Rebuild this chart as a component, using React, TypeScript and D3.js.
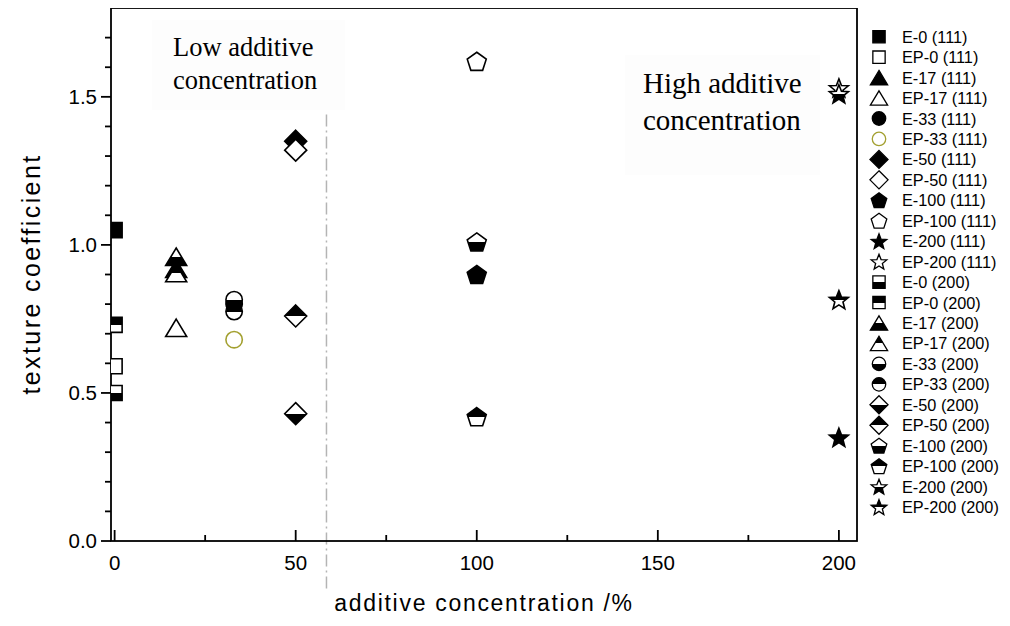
import React, { useRef, useEffect } from "react";
import * as d3 from "d3";

// additive concentration (%) of each sample and the marker shape it uses
const concentrations = [0, 17, 33, 50, 100, 200];
const shapes = ["square", "triangle", "circle", "diamond", "pentagon", "star"];

// texture coefficients
const e111 = [1.05, 0.92, 0.8, 1.35, 0.9, 0.35];
const ep111 = [0.59, 0.72, 0.68, 1.32, 1.62, 1.53];
const e200 = [0.5, 0.96, 0.815, 0.43, 1.01, 1.51];
const ep200 = [0.73, 0.905, 0.775, 0.76, 0.42, 0.815];

const yMajorTicks = [0, 0.5, 1.0, 1.5];
const yMinorTicks = d3.range(0.1, 1.8, 0.1).filter((v) => Math.abs(v * 2 - Math.round(v * 2)) > 0.01);
const xMajorTicks = [0, 50, 100, 150, 200];
const xMinorTicks = [25, 75, 125, 175];
const dividerAt = 58.5;

type Style = "filled" | "open" | "bottomBlack" | "topBlack";

// one entry per legend row
const series: { label: string; x: number; y: number; shape: string; style: Style; stroke: string }[] = [];
concentrations.forEach((c, i) => {
  series.push({ label: `E-${c} (111)`, x: c, y: e111[i], shape: shapes[i], style: "filled", stroke: "#000" });
  series.push({ label: `EP-${c} (111)`, x: c, y: ep111[i], shape: shapes[i], style: "open", stroke: c === 33 ? "#a3a030" : "#000" });
});
concentrations.forEach((c, i) => {
  series.push({ label: `E-${c} (200)`, x: c, y: e200[i], shape: shapes[i], style: "bottomBlack", stroke: "#000" });
  series.push({ label: `EP-${c} (200)`, x: c, y: ep200[i], shape: shapes[i], style: "topBlack", stroke: "#000" });
});

const polygon = (pts: number[][]) => "M" + pts.map((p) => p.map((v) => v.toFixed(2)).join(",")).join("L") + "Z";

// marker outline centred on 0,0
const shapePath = (shape: string, k: number) => {
  if (shape === "square") {
    const s = 7.5 * k;
    return polygon([[-s, -s], [s, -s], [s, s], [-s, s]]);
  }
  if (shape === "circle") {
    const r = 8.2 * k;
    return `M${r},0A${r},${r} 0 1 1 ${-r},0A${r},${r} 0 1 1 ${r},0Z`;
  }
  if (shape === "triangle") {
    const w = 10.5 * k, h = 17.5 * k;
    return polygon([[0, -h / 2], [w, h / 2], [-w, h / 2]]);
  }
  if (shape === "diamond") {
    const a = 11 * k;
    return polygon([[0, -a], [a, 0], [0, a], [-a, 0]]);
  }
  if (shape === "pentagon") {
    const R = 10 * k;
    const dy = (R - R * Math.cos(Math.PI / 5)) / 2;
    return polygon(d3.range(5).map((i) => {
      const a = -Math.PI / 2 + (i * 2 * Math.PI) / 5;
      return [R * Math.cos(a), R * Math.sin(a) + dy];
    }));
  }
  // star
  const R = 10 * k, r = 4.3 * k;
  const dy = (R - R * Math.cos(Math.PI / 5)) / 2;
  return polygon(d3.range(10).map((i) => {
    const a = -Math.PI / 2 + (i * Math.PI) / 5;
    const rad = i % 2 === 0 ? R : r;
    return [rad * Math.cos(a), rad * Math.sin(a) + dy];
  }));
};

const fillFor = (style: Style) =>
  style === "filled" ? "#000" : style === "open" ? "#fff" : style === "bottomBlack" ? "url(#bottomBlack)" : "url(#topBlack)";

const TextureChart = () => {
  const svgRef = useRef<SVGSVGElement>(null);

  useEffect(() => {
    const svg = d3.select(svgRef.current);
    svg.selectAll("*").remove();

    const left = 111, right = 857, top = 8, bottom = 541;
    const x = d3.scaleLinear().domain([-1, 205]).range([left, right]);
    const y = d3.scaleLinear().domain([0, 1.8]).range([bottom, top]);

    const defs = svg.append("defs");
    const grad = (id: string, topColor: string, botColor: string) => {
      const g = defs.append("linearGradient").attr("id", id).attr("x1", 0).attr("y1", 0).attr("x2", 0).attr("y2", 1);
      g.append("stop").attr("offset", "0").attr("stop-color", topColor);
      g.append("stop").attr("offset", "0.5").attr("stop-color", topColor);
      g.append("stop").attr("offset", "0.5").attr("stop-color", botColor);
      g.append("stop").attr("offset", "1").attr("stop-color", botColor);
    };
    grad("bottomBlack", "#fff", "#000");
    grad("topBlack", "#000", "#fff");
    defs.append("clipPath").attr("id", "plotClip")
      .append("rect").attr("x", left).attr("y", top).attr("width", right - left).attr("height", bottom - top);

    // faint boxes behind the annotations
    svg.append("rect").attr("x", 152).attr("y", 20).attr("width", 193).attr("height", 90).attr("fill", "#fdfdfd");
    svg.append("rect").attr("x", 625).attr("y", 55).attr("width", 195).attr("height", 120).attr("fill", "#fdfdfd");

    // divider between low and high concentration
    svg.append("line")
      .attr("x1", x(dividerAt)).attr("x2", x(dividerAt))
      .attr("y1", y(1.44)).attr("y2", y(-0.16))
      .attr("stroke", "#b4b4b4").attr("stroke-width", 1.5).attr("stroke-dasharray", "12,4,2,4");

    const annot = (lines: string[], tx: number, ty: number, size: number, lh: number) => {
      const t = svg.append("text").attr("font-family", "'Liberation Serif', 'Times New Roman', serif")
        .attr("font-size", size).attr("fill", "#000");
      lines.forEach((l, i) => t.append("tspan").attr("x", tx).attr("y", ty + i * lh).text(l));
    };
    annot(["Low additive", "concentration"], 173, 56, 26.5, 33);
    annot(["High additive", "concentration"], 643, 93, 29, 37);

    // frame
    svg.append("rect").attr("x", left).attr("y", top).attr("width", right - left).attr("height", bottom - top)
      .attr("fill", "none").attr("stroke", "#000").attr("stroke-width", 1.8);

    // y axis: ticks outward
    const yAxis = svg.append("g").attr("stroke", "#000").attr("stroke-width", 1.8);
    yAxis.selectAll(".major").data(yMajorTicks).enter().append("line")
      .attr("x1", left - 10).attr("x2", left).attr("y1", (d) => y(d)).attr("y2", (d) => y(d));
    yAxis.selectAll(".minor").data(yMinorTicks).enter().append("line")
      .attr("x1", left - 6).attr("x2", left).attr("y1", (d) => y(d)).attr("y2", (d) => y(d));
    svg.append("g").selectAll("text").data(yMajorTicks).enter().append("text")
      .attr("x", left - 14).attr("y", (d) => y(d) + 7).attr("text-anchor", "end")
      .attr("font-family", "Arial, 'Liberation Sans', sans-serif").attr("font-size", 20.5)
      .text((d) => d3.format(".1f")(d));

    // x axis: ticks inward
    const xAxis = svg.append("g").attr("stroke", "#000").attr("stroke-width", 1.8);
    xAxis.selectAll(".major").data(xMajorTicks).enter().append("line")
      .attr("x1", (d) => x(d)).attr("x2", (d) => x(d)).attr("y1", bottom).attr("y2", bottom - 11);
    xAxis.selectAll(".minor").data(xMinorTicks).enter().append("line")
      .attr("x1", (d) => x(d)).attr("x2", (d) => x(d)).attr("y1", bottom).attr("y2", bottom - 6);
    svg.append("g").selectAll("text").data(xMajorTicks).enter().append("text")
      .attr("x", (d) => x(d)).attr("y", 570).attr("text-anchor", "middle")
      .attr("font-family", "Arial, 'Liberation Sans', sans-serif").attr("font-size", 20.5)
      .text((d) => d);

    // axis titles
    svg.append("text").attr("x", 484).attr("y", 611).attr("text-anchor", "middle")
      .attr("font-family", "Arial, 'Liberation Sans', sans-serif").attr("font-size", 23)
      .attr("letter-spacing", 1.7).text("additive concentration /%");
    svg.append("text").attr("transform", "translate(40,274) rotate(-90)").attr("text-anchor", "middle")
      .attr("font-family", "Arial, 'Liberation Sans', sans-serif").attr("font-size", 25)
      .attr("letter-spacing", 2.4).text("texture coefficient");

    // data markers
    svg.append("g").attr("clip-path", "url(#plotClip)")
      .selectAll("path").data(series).enter().append("path")
      .attr("d", (d) => shapePath(d.shape, 1))
      .attr("transform", (d) => `translate(${x(d.x)},${y(d.y)})`)
      .attr("fill", (d) => fillFor(d.style))
      .attr("stroke", (d) => d.stroke).attr("stroke-width", 1.6);

    // legend
    const legend = svg.append("g").selectAll("g").data(series).enter().append("g")
      .attr("transform", (d, i) => `translate(879,${36.7 + i * 20.45})`);
    legend.append("path")
      .attr("d", (d) => shapePath(d.shape, 0.82))
      .attr("fill", (d) => fillFor(d.style))
      .attr("stroke", (d) => d.stroke).attr("stroke-width", 1.3);
    legend.append("text").attr("x", 23).attr("y", 6)
      .attr("font-family", "Arial, 'Liberation Sans', sans-serif").attr("font-size", 16.3)
      .text((d) => d.label);
  }, []);

  return <svg ref={svgRef} width={1010} height={626} style={{ display: "block" }}></svg>;
};

export default function App() {
  return (
    <div style={{ margin: -8 }}>
      <TextureChart />
    </div>
  );
}
